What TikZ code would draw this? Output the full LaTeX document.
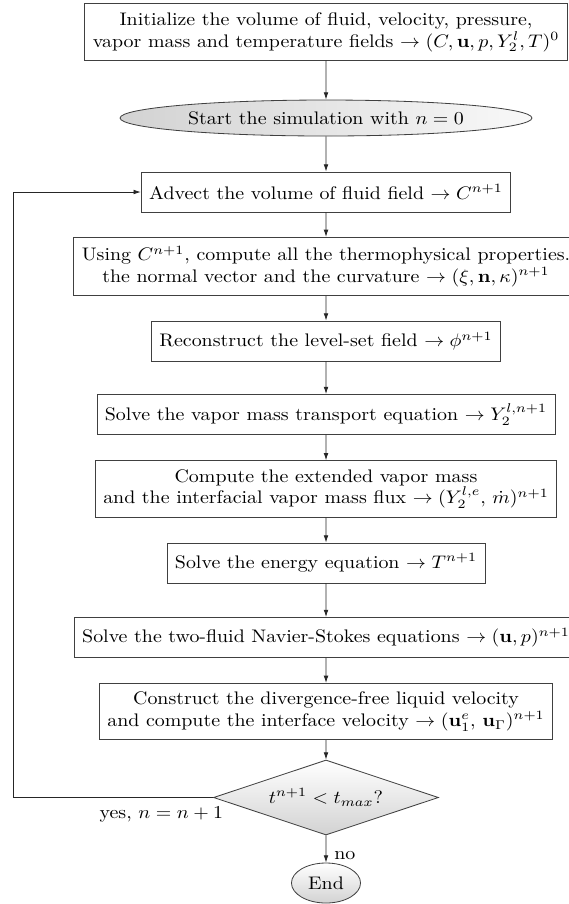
\documentclass[tikz,border=0pt]{standalone}
\usetikzlibrary{shapes.geometric,arrows.meta}
\begin{document}
\begin{tikzpicture}[x=0.55pt,y=-0.55pt,
  wide/.style={xscale=1.095},
  stepbox/.style={wide, draw=black!75, line width=0.45pt, rectangle, align=center,
    inner xsep=4pt, inner ysep=4.7pt, minimum height=22pt, fill=white},
  arr/.style={draw=black!85, line width=0.45pt, -{Latex[length=4pt,width=2.6pt]}},
  shadedshape/.style={wide, draw=black!75, line width=0.45pt, top color=white, bottom color=gray!35},
]
\useasboundingbox (0,0) rectangle (569,904);

\node[stepbox] (b1) at (326,32) {Initialize the volume of fluid, velocity, pressure,\\ vapor mass and temperature fields $\rightarrow (C,\mathbf{u},p,Y_2^l,T)^0$};
\node[ellipse, wide, draw=black!75, line width=0.45pt, left color=gray!35, right color=gray!5,
  minimum width=206.9pt, minimum height=19.8pt, inner sep=0pt] (start) at (326,118) {Start the simulation with $n=0$};
\node[stepbox] (b3) at (326,192) {Advect the volume of fluid field $\rightarrow C^{n+1}$};
\node[stepbox] (b4) at (326,266.5) {Using $C^{n+1}$, compute all the thermophysical properties.\\ the normal vector and the curvature $\rightarrow (\xi,\mathbf{n},\kappa)^{n+1}$};
\node[stepbox] (b5) at (326,341) {Reconstruct the level-set field $\rightarrow \phi^{n+1}$};
\node[stepbox] (b6) at (326,414.5) {Solve the vapor mass transport equation $\rightarrow Y_2^{l,n+1}$};
\node[stepbox] (b7) at (326,489) {Compute the extended vapor mass\\ and the interfacial vapor mass flux $\rightarrow (Y_2^{l,e},\, \dot{m})^{n+1}$};
\node[stepbox] (b8) at (326,563) {Solve the energy equation $\rightarrow T^{n+1}$};
\node[stepbox] (b9) at (326,637.5) {Solve the two-fluid Navier-Stokes equations $\rightarrow (\mathbf{u},p)^{n+1}$};
\node[stepbox] (b10) at (326,711.5) {Construct the divergence-free liquid velocity\\ and compute the interface velocity $\rightarrow (\mathbf{u}_1^e,\, \mathbf{u}_\Gamma)^{n+1}$};
\node[diamond, shadedshape, aspect=3, minimum width=113pt, minimum height=41.25pt, inner sep=0pt] (dia) at (326,797.5) {$t^{n+1} < t_{max}?$};
\node[ellipse, shadedshape, minimum width=34.7pt, minimum height=22pt, inner sep=0pt] (end) at (326,883) {End};

\node[wide, anchor=base east, inner sep=0pt] (yes) at ([xshift=5.8pt,yshift=-11.3pt]dia.west) {yes, $n=n+1$};
\node[wide, anchor=base west, inner sep=0pt] (no) at ([xshift=4.4pt,yshift=1.65pt]end.north) {no};
\coordinate (lb) at (13,797.5);
\coordinate (lt) at (13,192);

\draw[arr] (b1) -- (start);
\draw[arr] (start) -- (b3);
\draw[arr] (b3) -- (b4);
\draw[arr] (b4) -- (b5);
\draw[arr] (b5) -- (b6);
\draw[arr] (b6) -- (b7);
\draw[arr] (b7) -- (b8);
\draw[arr] (b8) -- (b9);
\draw[arr] (b9) -- (b10);
\draw[arr] (b10) -- (dia);
\draw[arr] (dia) -- (end);
\draw[arr] (dia.west) -- (lb) -- (lt) -- (b3.west);
\end{tikzpicture}
\end{document}
